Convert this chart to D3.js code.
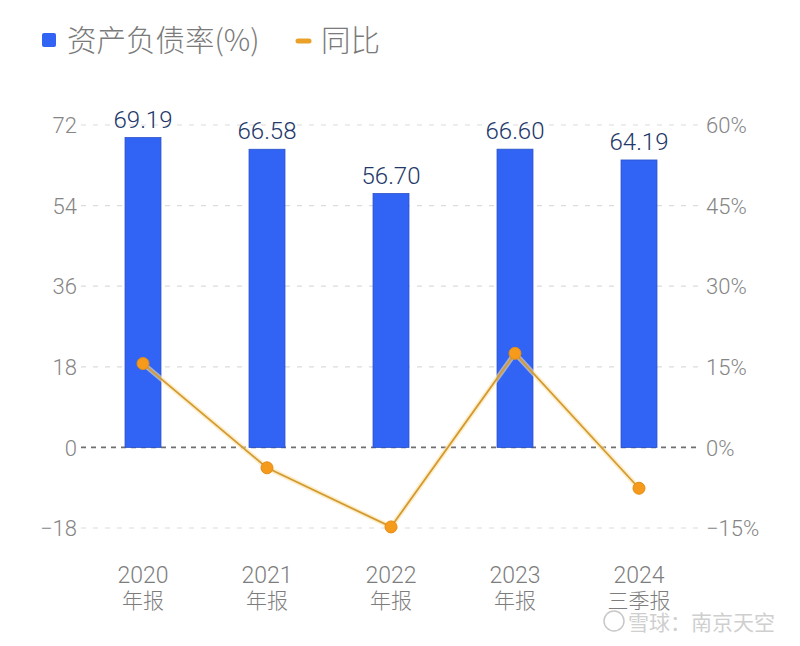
<!DOCTYPE html>
<html><head><meta charset="utf-8">
<script src="https://cdn.jsdelivr.net/npm/d3@7"></script>
<style>html,body{margin:0;padding:0;background:#fff;}svg{display:block;}</style>
</head><body>
<svg id="chart" width="800" height="646"></svg>
<script>
const years = ["2020", "2021", "2022", "2023", "2024"];
const periods = ["年报", "年报", "年报", "年报", "三季报"];
const debtRatio = [69.19, 66.58, 56.70, 66.60, 64.19];
const yoy = [15.6, -3.8, -14.8, 17.5, -7.6];
const leftTicks = [-18, 0, 18, 36, 54, 72];
const rightTicks = [-15, 0, 15, 30, 45, 60];
const legendLabels = ["资产负债率(%)", "同比"];

const svg = d3.select("#chart");
const plotTop = 125, plotBottom = 528, plotLeft = 81, plotRight = 701;
const FONT = "Roboto, 'Noto Sans CJK SC', sans-serif";
const CJK = "'Noto Sans CJK SC', sans-serif";

const x = d3.scaleBand().domain(years).range([plotLeft, plotRight]).paddingInner(0.71).paddingOuter(0.355);
const yL = d3.scaleLinear().domain([-18, 72]).range([plotBottom, plotTop]);
const yR = d3.scaleLinear().domain([-15, 60]).range([plotBottom, plotTop]);

// gridlines
const grid = svg.append("g");
leftTicks.forEach(t => {
  grid.append("line").attr("x1", plotLeft).attr("x2", plotRight)
    .attr("y1", yL(t)).attr("y2", yL(t))
    .attr("stroke", t === 0 ? "#6f6f6f" : "#dcdcdc")
    .attr("stroke-width", t === 0 ? 1.6 : 1.2)
    .attr("stroke-dasharray", t === 0 ? "5,5" : "5,7");
});

// left axis
const axL = svg.append("g").attr("transform", `translate(${plotLeft - 4},0)`)
  .call(d3.axisLeft(yL).tickValues(leftTicks).tickSize(0).tickPadding(0).tickFormat(d => d < 0 ? "−" + Math.abs(d) : d));
axL.select(".domain").remove();
axL.selectAll("text").attr("font-family", FONT).attr("font-size", 22).attr("font-weight", 300)
  .attr("fill", "#858585").attr("dy", "0.35em");

// right axis
const axR = svg.append("g").attr("transform", `translate(${plotRight + 5},0)`)
  .call(d3.axisRight(yR).tickValues(rightTicks).tickSize(0).tickPadding(0).tickFormat(d => (d < 0 ? "−" + Math.abs(d) : d) + "%"));
axR.select(".domain").remove();
axR.selectAll("text").attr("font-family", FONT).attr("font-size", 22).attr("font-weight", 300)
  .attr("fill", "#858585").attr("dy", "0.35em");

// bars
svg.append("g").selectAll("rect").data(debtRatio).join("rect")
  .attr("x", (d, i) => x(years[i]))
  .attr("width", x.bandwidth())
  .attr("y", d => yL(d))
  .attr("height", d => yL(0) - yL(d))
  .attr("fill", "#3163f5")
  .attr("stroke", "#2a52c8").attr("stroke-width", 0.8);

// value labels
svg.append("g").selectAll("text").data(debtRatio).join("text")
  .attr("x", (d, i) => x(years[i]) + x.bandwidth() / 2)
  .attr("y", d => yL(d) - 10)
  .attr("text-anchor", "middle")
  .attr("font-family", FONT).attr("font-size", 24).attr("font-weight", 300)
  .attr("fill", "#22386a")
  .text(d => d.toFixed(2));

// line
const line = d3.line().x((d, i) => x(years[i]) + x.bandwidth() / 2).y(d => yR(d));
svg.append("path").datum(yoy).attr("d", line)
  .attr("fill", "none").attr("stroke", "#fbe3a8").attr("stroke-width", 5).attr("opacity", 0.6);
svg.append("path").datum(yoy).attr("d", line)
  .attr("fill", "none").attr("stroke", "#d39a30").attr("stroke-width", 1.8);
svg.append("g").selectAll("circle").data(yoy).join("circle")
  .attr("cx", (d, i) => x(years[i]) + x.bandwidth() / 2)
  .attr("cy", d => yR(d))
  .attr("r", 6)
  .attr("fill", "#f59a1b").attr("stroke", "#e48c14").attr("stroke-width", 1);

// x labels
const xl = svg.append("g");
years.forEach((yv, i) => {
  const cx = x(yv) + x.bandwidth() / 2;
  xl.append("text").attr("x", cx).attr("y", 583).attr("text-anchor", "middle")
    .attr("font-family", FONT).attr("font-size", 23).attr("font-weight", 300).attr("fill", "#7d7d7d").text(yv);
  xl.append("text").attr("x", cx).attr("y", 608).attr("text-anchor", "middle")
    .attr("font-family", CJK).attr("font-size", 21).attr("font-weight", 300).attr("fill", "#7d7d7d").text(periods[i]);
});

// legend
const lg = svg.append("g");
lg.append("rect").attr("x", 42).attr("y", 33).attr("width", 14).attr("height", 14).attr("rx", 2).attr("fill", "#3163f5");
lg.append("text").attr("x", 67).attr("y", 51).attr("font-family", CJK)
  .attr("font-size", 29.5).attr("font-weight", 300).attr("fill", "#7a7a7a").text(legendLabels[0]);
lg.append("line").attr("x1", 298).attr("x2", 309).attr("y1", 41).attr("y2", 41)
  .attr("stroke", "#e9a12a").attr("stroke-width", 5).attr("stroke-linecap", "round");
lg.append("text").attr("x", 321).attr("y", 51).attr("font-family", CJK)
  .attr("font-size", 29.5).attr("font-weight", 300).attr("fill", "#7a7a7a").text(legendLabels[1]);

// watermark
const wm = svg.append("g");
wm.append("circle").attr("cx", 614).attr("cy", 621).attr("r", 10).attr("fill", "none").attr("stroke", "#c8c8c8").attr("stroke-width", 1.5);
wm.append("text").attr("x", 628).attr("y", 630).attr("font-family", CJK)
  .attr("font-size", 21).attr("fill", "#cfcfcf").text("雪球：南京天空");
</script>
</body></html>
